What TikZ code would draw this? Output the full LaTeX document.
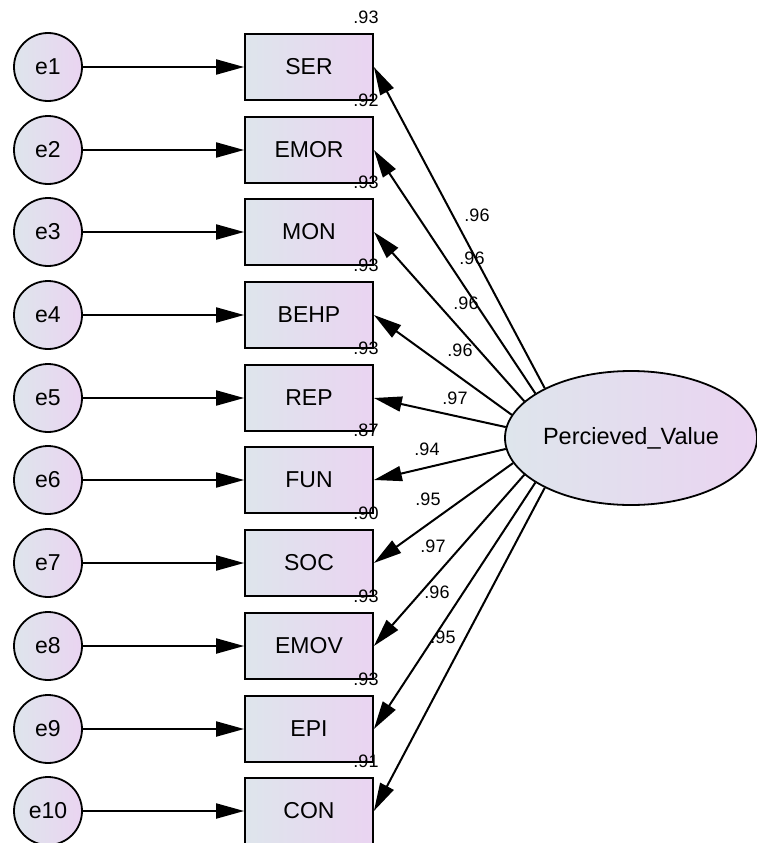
\documentclass[tikz,border=0pt]{standalone}
\usepackage{fontspec}
\setmainfont{Liberation Sans}
\usetikzlibrary{
    arrows.meta,
    shapes.geometric
}

\definecolor{fillA}{RGB}{222,229,236}
\definecolor{fillB}{RGB}{234,212,241}

\tikzset{
    obsbox/.style={draw,line width=1.8pt,left color=fillA,right color=fillB,
        minimum width=128pt,minimum height=66pt,inner sep=0pt,
        font=\fontsize{23}{27}\selectfont},
    errcirc/.style={draw,circle,line width=1.8pt,left color=fillA,right color=fillB,
        minimum size=68pt,inner sep=0pt,font=\fontsize{23}{27}\selectfont},
    latent/.style={draw,ellipse,line width=1.8pt,left color=fillA,right color=fillB,
        minimum width=252pt,minimum height=134pt,inner sep=0pt,inner xsep=-8pt,
        font=\fontsize{23.5}{27}\selectfont},
    pth/.style={line width=2pt,-{Triangle[length=28pt,width=15pt]}},
    est/.style={inner sep=0pt,font=\fontsize{18}{21}\selectfont}
}

\begin{document}
\begin{tikzpicture}[x=1pt,y=-1pt]

% Frame
\fill[white] (0,0) rectangle (757,843);
\useasboundingbox (0,0) rectangle (757,843);

% Latent factor
\node[latent] (pv) at (631,438) {Percieved\_Value};

% Indicators, errors and loadings
\foreach \lbl/\ang/\rsq/\lx/\ly/\lam [count=\i] in {
    SER/150/.93/477/215/.96,
    EMOR/155/.92/472/258/.96,
    MON/161/.93/466/303/.96,
    BEHP/169/.93/460/350/.96,
    REP/175/.93/455/398/.97,
    FUN/185/.87/427/449/.94,
    SOC/192/.90/428/499/.95,
    EMOV/199/.93/433/546/.97,
    EPI/205/.93/437/592/.96,
    CON/210/.91/443/637/.95}{
    \pgfmathsetmacro{\yy}{round(67+(\i-1)*82.7)}
    \node[obsbox] (v\i) at (309,\yy) {\lbl};
    \node[errcirc] (e\i) at (48,\yy) {e\i};
    \draw[pth] (e\i) -- (v\i);
    \draw[pth] (pv.\ang) -- (v\i.east);
    \node[est] at (366,\yy-50) {\rsq};
    \node[est] at (\lx,\ly) {\lam};
}

\end{tikzpicture}
\end{document}
